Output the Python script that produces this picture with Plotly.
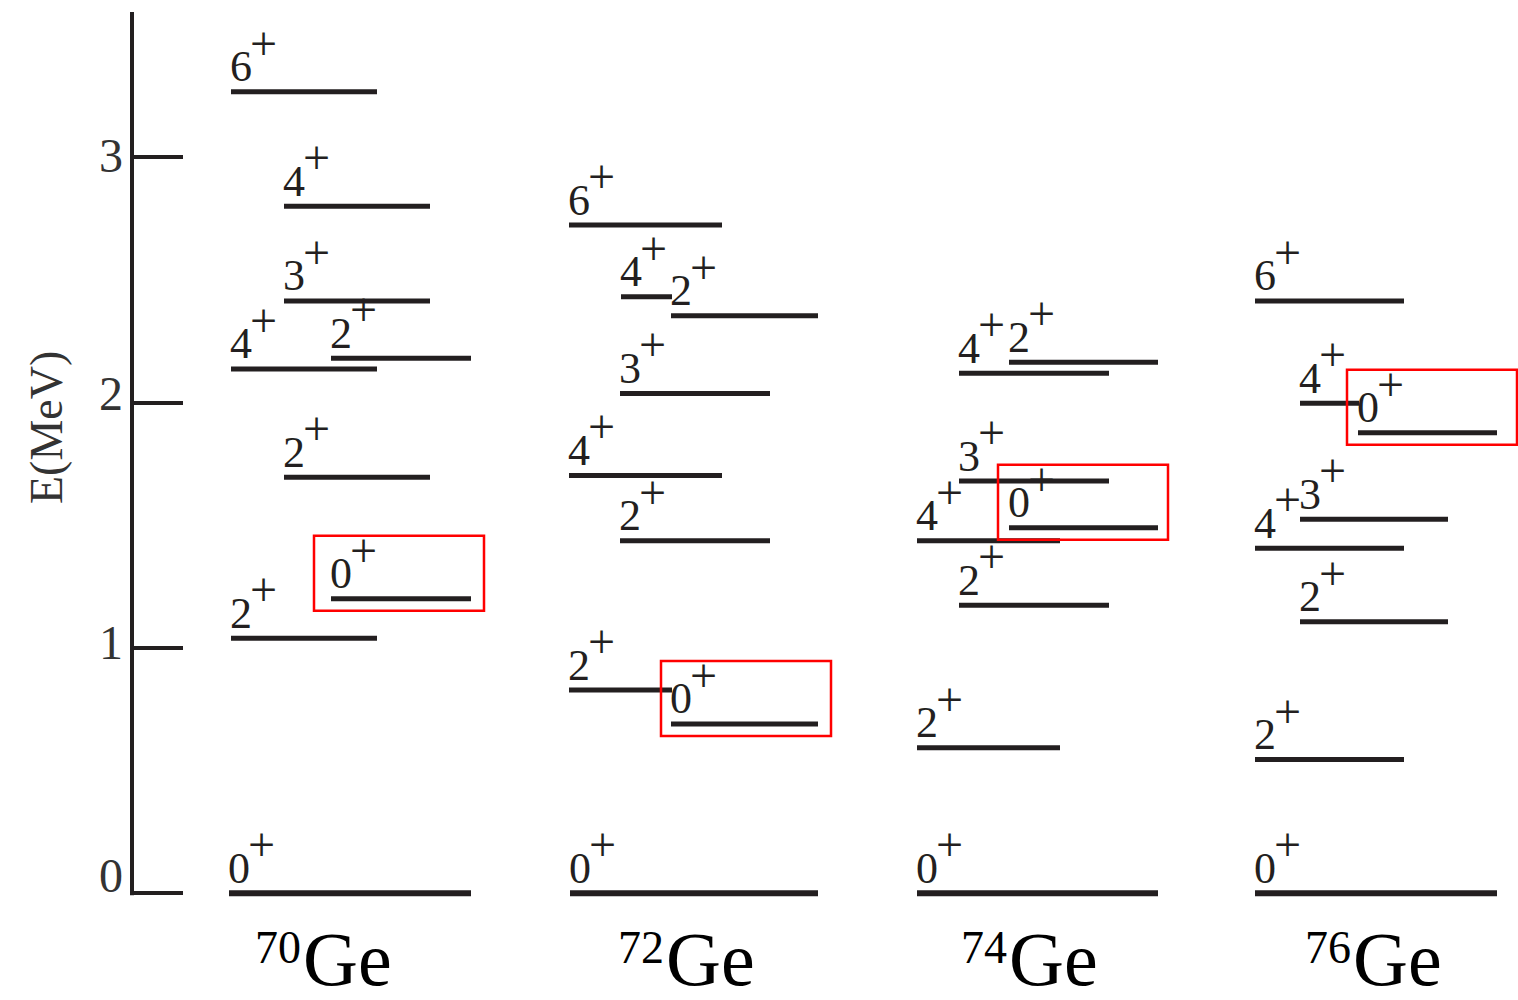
import plotly.graph_objects as go

# ---------------------------------------------------------------------------
# Level data: excitation energies (MeV) and spins (all positive parity)
# ---------------------------------------------------------------------------
ISOTOPES = ["70", "72", "74", "76"]

E_70 = [0.000, 1.039, 1.200, 1.695, 2.137, 2.180, 2.414, 2.800, 3.266]
J_70 = ["0", "2", "0", "2", "4", "2", "3", "4", "6"]

E_72 = [0.000, 0.690, 0.828, 1.437, 1.703, 2.037, 2.354, 2.431, 2.723]
J_72 = ["0", "0", "2", "2", "4", "3", "2", "4", "6"]

E_74 = [0.000, 0.593, 1.174, 1.437, 1.490, 1.680, 2.119, 2.164]
J_74 = ["0", "2", "2", "4", "0", "3", "4", "2"]

E_76 = [0.000, 0.545, 1.107, 1.406, 1.524, 1.877, 1.997, 2.414]
J_76 = ["0", "2", "2", "4", "3", "0", "4", "6"]

# excited 0+ state framed in each isotope (index into the level lists)
HIGHLIGHT = [2, 1, 4, 5]

Y_TICKS = [0, 1, 2, 3]
Y_TICK_TEXT = ["0", "1", "2", "3"]
Y_TITLE = "E(MeV)"

ENERGIES = dict(zip(ISOTOPES, [E_70, E_72, E_74, E_76]))
SPINS = dict(zip(ISOTOPES, [J_70, J_72, J_74, J_76]))

# ---------------------------------------------------------------------------
# Drawing layout (x in page pixels, columns G=ground, A/B/C staggered)
# ---------------------------------------------------------------------------
W, H = 1518, 1000
PX_PER_MEV = 245.4
ZERO_PX = 893.3                      # page row of E = 0
Y_MAX = ZERO_PX / PX_PER_MEV
Y_MIN = Y_MAX - H / PX_PER_MEV
AXIS_X = 132
AXIS_TOP = (ZERO_PX - 12) / PX_PER_MEV

COLUMNS = {
    "70": {"G": (229, 471), "A": (231, 377), "B": (284, 430), "C": (331, 471)},
    "72": {"G": (570, 818), "A": (569, 722), "B": (620, 770), "C": (671, 818),
           "As": (569, 672), "Bs": (621, 672)},
    "74": {"G": (917, 1158), "A": (917, 1060), "B": (959, 1109), "C": (1009, 1158)},
    "76": {"G": (1255, 1497), "A": (1255, 1404), "B": (1300, 1448), "C": (1358, 1497),
           "Bs": (1300, 1359)},
}
SLOTS = {
    "70": ["G", "A", "C", "B", "A", "C", "B", "B", "A"],
    "72": ["G", "C", "As", "B", "A", "B", "C", "Bs", "A"],
    "74": ["G", "A", "B", "A", "C", "B", "B", "C"],
    "76": ["G", "A", "B", "A", "B", "C", "Bs", "A"],
}
BOX_LEFT_PAD = {"70": 17, "72": 10, "74": 11, "76": 11}
BOX_WIDTH = 170
NAME_SPLIT = {"70": 302, "72": 665, "74": 1008, "76": 1352}
NAME_BASELINE = 985
TICK_LABEL_SHIFT = [18, 5, 9, 2]

INK = "#231f20"
SERIF = "Liberation Serif, Times New Roman, serif"

fig = go.Figure()
annotations = []
shapes = []

for k, iso in enumerate(ISOTOPES):
    gx, gy, ex, ey = [], [], [], []
    for e, j, slot in zip(ENERGIES[iso], SPINS[iso], SLOTS[iso]):
        x0, x1 = COLUMNS[iso][slot]
        if slot == "G":
            gx += [x0, x1, None]
            gy += [e, e, None]
        else:
            ex += [x0, x1, None]
            ey += [e, e, None]
        # spin digit
        annotations.append(dict(
            x=x0, y=e, xref="x", yref="y", text=j, showarrow=False,
            xanchor="left", yanchor="bottom", xshift=-2, yshift=-0.5,
            borderpad=0, font=dict(family=SERIF, size=44, color=INK)))
        # parity sign, raised
        annotations.append(dict(
            x=x0, y=e, xref="x", yref="y", text="+", showarrow=False,
            xanchor="left", yanchor="bottom", xshift=18, yshift=21,
            borderpad=0, font=dict(family=SERIF, size=48, color=INK)))
    fig.add_trace(go.Scatter(x=gx, y=gy, mode="lines", hoverinfo="skip",
                             line=dict(color=INK, width=6), showlegend=False))
    fig.add_trace(go.Scatter(x=ex, y=ey, mode="lines", hoverinfo="skip",
                             line=dict(color=INK, width=5), showlegend=False))

    # frame around the excited 0+ level
    idx = HIGHLIGHT[k]
    e0 = ENERGIES[iso][idx]
    lx0, _ = COLUMNS[iso][SLOTS[iso][idx]]
    bx0 = lx0 - BOX_LEFT_PAD[iso]
    shapes.append(dict(type="rect", xref="x", yref="y",
                       x0=bx0, x1=bx0 + BOX_WIDTH,
                       y0=e0 - 12 / PX_PER_MEV, y1=e0 + 63 / PX_PER_MEV,
                       line=dict(color="#ff0000", width=2.5),
                       fillcolor="rgba(0,0,0,0)"))

    # isotope name: mass number superscript + element symbol
    split = NAME_SPLIT[iso]
    annotations.append(dict(
        x=split - 1, y=0, xref="x", yref="y", text="Ge", showarrow=False,
        xanchor="left", yanchor="middle",
        yshift=-(NAME_BASELINE - 0.3375 * 76 - ZERO_PX),
        font=dict(family=SERIF, size=76, color="#000000")))
    annotations.append(dict(
        x=split + 1, y=0, xref="x", yref="y", text=iso, showarrow=False,
        xanchor="right", yanchor="middle",
        yshift=-(NAME_BASELINE - 22 - 0.3375 * 46 - ZERO_PX),
        font=dict(family=SERIF, size=46, color="#000000")))

# energy axis: vertical line drawn on the data scale
shapes.append(dict(type="line", xref="x", yref="y",
                   x0=AXIS_X, x1=AXIS_X, y0=-2 / PX_PER_MEV, y1=AXIS_TOP,
                   line=dict(color=INK, width=4)))

for v, t, s in zip(Y_TICKS, Y_TICK_TEXT, TICK_LABEL_SHIFT):
    annotations.append(dict(
        x=AXIS_X, y=v, xref="x", yref="y", text=t, showarrow=False,
        xanchor="right", yanchor="middle", xshift=-7, yshift=s,
        font=dict(family=SERIF, size=48, color="#333333")))

annotations.append(dict(
    x=46, y=(ZERO_PX - 428) / PX_PER_MEV, xref="x", yref="y", text=Y_TITLE,
    showarrow=False, textangle=-90, xanchor="center", yanchor="middle",
    font=dict(family=SERIF, size=46, color="#333333")))

fig.update_layout(
    template="none",
    width=W, height=H,
    margin=dict(l=0, r=0, t=0, b=0),
    paper_bgcolor="white", plot_bgcolor="white",
    showlegend=False,
    xaxis=dict(range=[0, W], domain=[0, 1], visible=False, fixedrange=True),
    yaxis=dict(range=[Y_MIN, Y_MAX], domain=[0, 1], anchor="free",
               position=AXIS_X / W, showline=False, showgrid=False,
               zeroline=False, ticks="inside", ticklen=50, tickwidth=4,
               tickcolor=INK, tickvals=Y_TICKS, showticklabels=False,
               fixedrange=True),
    annotations=annotations,
    shapes=shapes,
)

fig.write_html("out.html")
